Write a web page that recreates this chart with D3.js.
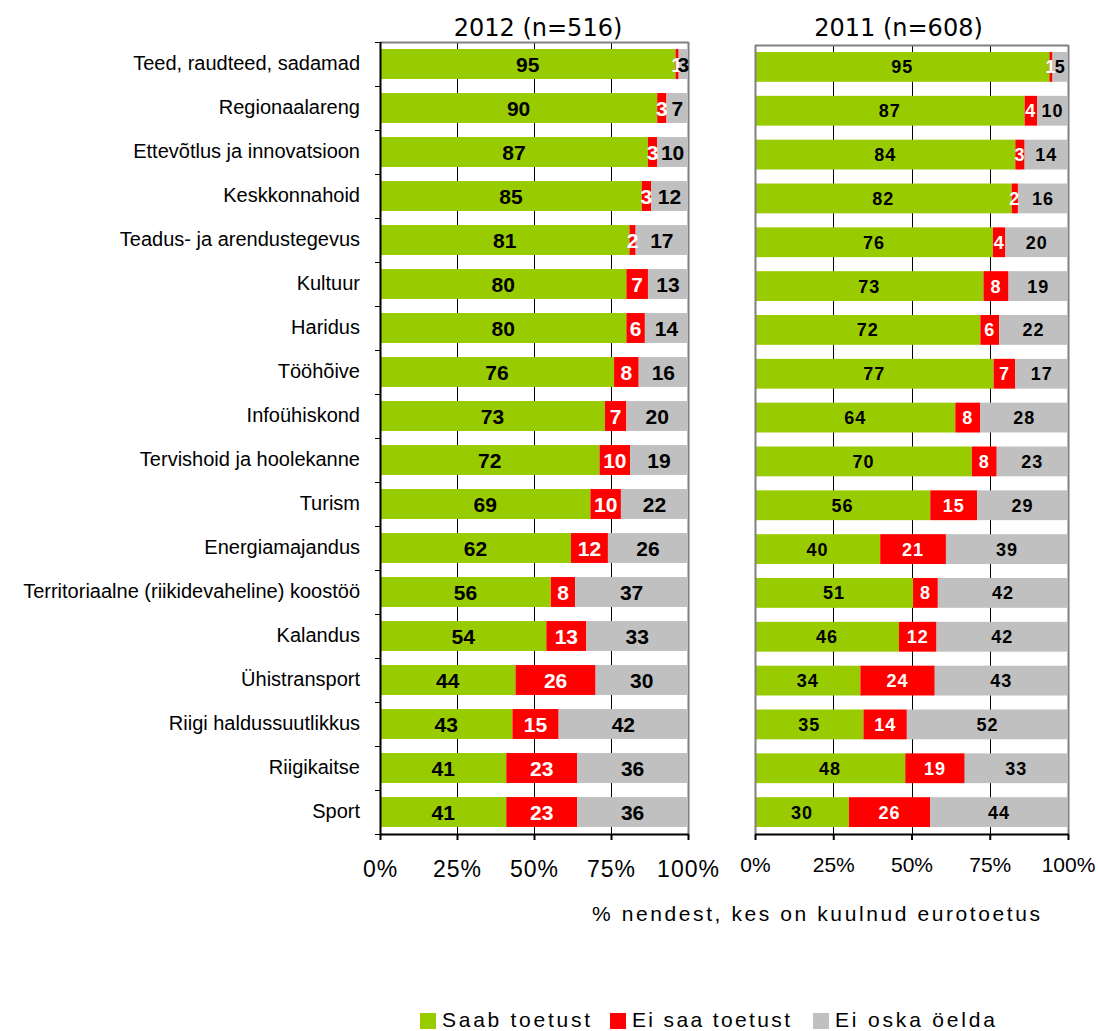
<!DOCTYPE html>
<html>
<head>
<meta charset="utf-8">
<script src="https://cdn.jsdelivr.net/npm/d3@7"></script>
<style>
  body { margin: 0; background: #fff; }
  svg { display: block; }
</style>
</head>
<body>
<svg id="chart" width="1098" height="1031"></svg>
<script>
const categories = [
  "Teed, raudteed, sadamad",
  "Regionaalareng",
  "Ettevõtlus ja innovatsioon",
  "Keskkonnahoid",
  "Teadus- ja arendustegevus",
  "Kultuur",
  "Haridus",
  "Tööhõive",
  "Infoühiskond",
  "Tervishoid ja hoolekanne",
  "Turism",
  "Energiamajandus",
  "Territoriaalne (riikidevaheline) koostöö",
  "Kalandus",
  "Ühistransport",
  "Riigi haldussuutlikkus",
  "Riigikaitse",
  "Sport"
];
const saab2012  = [95, 90, 87, 85, 81, 80, 80, 76, 73, 72, 69, 62, 56, 54, 44, 43, 41, 41];
const eiSaa2012 = [1, 3, 3, 3, 2, 7, 6, 8, 7, 10, 10, 12, 8, 13, 26, 15, 23, 23];
const eiOska2012= [3, 7, 10, 12, 17, 13, 14, 16, 20, 19, 22, 26, 37, 33, 30, 42, 36, 36];
const saab2011  = [95, 87, 84, 82, 76, 73, 72, 77, 64, 70, 56, 40, 51, 46, 34, 35, 48, 30];
const eiSaa2011 = [1, 4, 3, 2, 4, 8, 6, 7, 8, 8, 15, 21, 8, 12, 24, 14, 19, 26];
const eiOska2011= [5, 10, 14, 16, 20, 19, 22, 17, 28, 23, 29, 39, 42, 42, 43, 52, 33, 44];
const seriesNames = ["Saab toetust", "Ei saa toetust", "Ei oska öelda"];
const seriesColors = ["#99CC00", "#FF0000", "#C0C0C0"];
const labelColors = ["#000", "#fff", "#000"];
const xTicks = [0, 0.25, 0.5, 0.75, 1];
const titles = ["2012 (n=516)", "2011 (n=608)"];
const axisTitle = "% nendest, kes on kuulnud eurotoetus";

const svg = d3.select("#chart");
const keys = ["a", "b", "c"];

function buildRows(s1, s2, s3) {
  return categories.map((c, i) => ({cat: c, a: s1[i], b: s2[i], c: s3[i]}));
}

function drawPanel(cfg) {
  const rows = buildRows(...cfg.data);
  const x = d3.scaleLinear().domain([0, 1]).range([cfg.x0, cfg.x1]);
  const y = d3.scaleBand().domain(categories).range([cfg.y0, cfg.y1])
    .paddingInner(0.32).paddingOuter(0.16);
  const stacked = d3.stack().keys(keys).offset(d3.stackOffsetExpand)(rows);
  const g = svg.append("g");

  // gridlines
  g.selectAll("line.grid").data([0.25, 0.5, 0.75]).join("line")
    .attr("x1", d => Math.round(x(d)) + 0.5).attr("x2", d => Math.round(x(d)) + 0.5)
    .attr("y1", cfg.y0).attr("y2", cfg.y1)
    .attr("stroke", "#000").attr("stroke-width", 1);

  // frame (top & right gray)
  g.append("line").attr("x1", cfg.x0).attr("x2", cfg.x1 + 0.5)
    .attr("y1", cfg.y0 + 0.5).attr("y2", cfg.y0 + 0.5)
    .attr("stroke", "#808080").attr("stroke-width", 2);
  g.append("line").attr("x1", cfg.x1 + 0.5).attr("x2", cfg.x1 + 0.5)
    .attr("y1", cfg.y0).attr("y2", cfg.y1)
    .attr("stroke", "#808080").attr("stroke-width", 2);

  // bars
  stacked.forEach((layer, li) => {
    g.selectAll("rect.s" + li).data(layer).join("rect")
      .attr("x", d => x(d[0])).attr("width", d => x(d[1]) - x(d[0]))
      .attr("y", d => y(d.data.cat)).attr("height", y.bandwidth())
      .attr("fill", seriesColors[li]);
  });
  // labels
  stacked.forEach((layer, li) => {
    g.selectAll("text.l" + li).data(layer).join("text")
      .attr("x", d => (x(d[0]) + x(d[1])) / 2)
      .attr("y", d => y(d.data.cat) + y.bandwidth() / 2)
      .attr("dy", "0.36em")
      .attr("text-anchor", "middle")
      .attr("font-family", "Liberation Sans, Arial, sans-serif")
      .attr("font-weight", "bold")
      .attr("font-size", cfg.labelSize)
      .attr("letter-spacing", cfg.labelSpacing)
      .attr("fill", labelColors[li])
      .text(d => d.data[keys[li]]);
  });

  // left axis line
  g.append("line").attr("x1", cfg.x0 + 0.5).attr("x2", cfg.x0 + 0.5)
    .attr("y1", cfg.y0).attr("y2", cfg.y1)
    .attr("stroke", cfg.leftColor).attr("stroke-width", 2);
  if (cfg.leftTicks) {
    const step = y.step();
    const bounds = categories.map(c => y(c) - step * y.paddingInner() / 2).concat([cfg.y1]);
    bounds[0] = cfg.y0;
    g.selectAll("line.yt").data(bounds).join("line")
      .attr("x1", cfg.x0 - 5).attr("x2", cfg.x0)
      .attr("y1", d => Math.round(d) + 0.5).attr("y2", d => Math.round(d) + 0.5)
      .attr("stroke", "#000").attr("stroke-width", 1);
  }

  // bottom axis
  const ax = g.append("g").attr("transform", `translate(0,${cfg.y1})`)
    .call(d3.axisBottom(x).tickValues(xTicks).tickSize(6).tickSizeOuter(0)
      .tickFormat(d => Math.round(d * 100) + "%"));
  ax.select(".domain").attr("stroke", "#000").attr("stroke-width", 2);
  ax.selectAll(".tick line").attr("stroke", "#000").attr("stroke-width", 2);
  ax.selectAll(".tick text")
    .attr("y", cfg.tickTextY).attr("dy", 0)
    .attr("fill", "#000")
    .attr("font-family", "Liberation Sans, Arial, sans-serif")
    .attr("font-size", cfg.tickSize)
    .attr("letter-spacing", cfg.tickSpacing);

  // title
  svg.append("text").attr("x", (cfg.x0 + cfg.x1) / 2 + cfg.titleDx).attr("y", 36)
    .attr("text-anchor", "middle")
    .attr("font-family", "DejaVu Sans, Verdana, sans-serif")
    .attr("font-size", 24).attr("fill", "#000")
    .text(cfg.title);

  return y;
}

const yLeft = drawPanel({
  data: [saab2012, eiSaa2012, eiOska2012],
  x0: 380, x1: 688, y0: 42, y1: 834,
  labelSize: 21, labelSpacing: 0,
  leftColor: "#000", leftTicks: true,
  tickTextY: 43, tickSize: 23, tickSpacing: 1,
  title: titles[0], titleDx: 4
});
drawPanel({
  data: [saab2011, eiSaa2011, eiOska2011],
  x0: 755, x1: 1068, y0: 45, y1: 834,
  labelSize: 18, labelSpacing: 1,
  leftColor: "#808080", leftTicks: false,
  tickTextY: 38, tickSize: 21, tickSpacing: 0,
  title: titles[1], titleDx: -13
});

// category labels
svg.selectAll("text.cat").data(categories).join("text")
  .attr("x", 360)
  .attr("y", d => yLeft(d) + yLeft.bandwidth() / 2 - 1)
  .attr("dy", "0.36em")
  .attr("text-anchor", "end")
  .attr("font-family", "Liberation Sans, Arial, sans-serif")
  .attr("font-size", 20).attr("fill", "#000")
  .text(d => d);

// axis title
svg.append("text").attr("x", 592).attr("y", 921)
  .attr("font-family", "Liberation Sans, Arial, sans-serif")
  .attr("font-size", 21).attr("fill", "#000")
  .attr("textLength", 448).attr("lengthAdjust", "spacing")
  .text(axisTitle);

// legend
const legendX = [420, 610, 813];
const legendLen = [148, 158, 160];
const lg = svg.append("g");
seriesNames.forEach((n, i) => {
  lg.append("rect").attr("x", legendX[i]).attr("y", 1013).attr("width", 16).attr("height", 16)
    .attr("fill", seriesColors[i]);
  lg.append("text").attr("x", legendX[i] + 22).attr("y", 1027)
    .attr("font-family", "Liberation Sans, Arial, sans-serif")
    .attr("font-size", 21).attr("fill", "#000")
    .attr("textLength", legendLen[i]).attr("lengthAdjust", "spacing")
    .text(n);
});
</script>
</body>
</html>
